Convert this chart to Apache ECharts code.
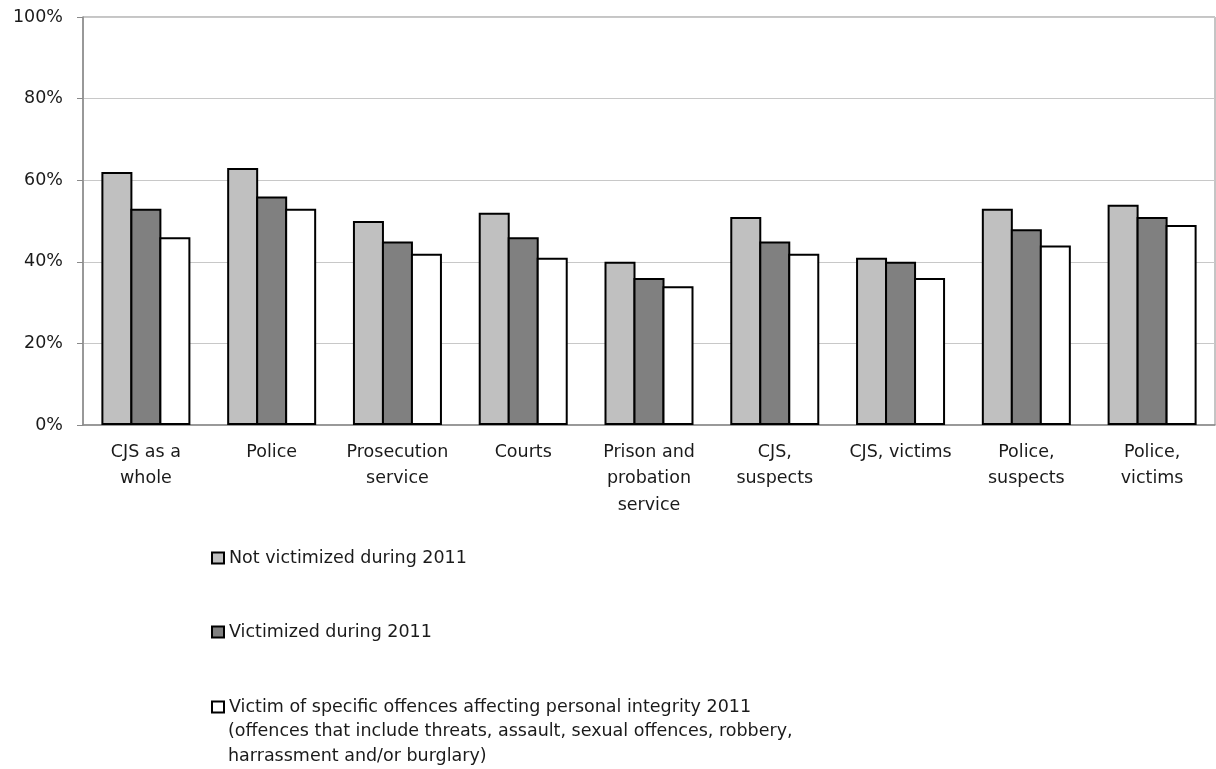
<!DOCTYPE html>
<html>
<head>
<meta charset="utf-8">
<script src="https://cdn.jsdelivr.net/npm/echarts@6/dist/echarts.min.js"></script>
<style>html,body{margin:0;padding:0;background:#fff}#c{width:1216px;height:769px}</style>
</head>
<body>
<div id="c"></div>
<script>
const categories = ['CJS as a\nwhole', 'Police', 'Prosecution\nservice', 'Courts', 'Prison and\nprobation\nservice', 'CJS,\nsuspects', 'CJS, victims', 'Police,\nsuspects', 'Police,\nvictims'];
const notVictimized = [62, 63, 50, 52, 40, 51, 41, 53, 54];
const victimized = [53, 56, 45, 46, 36, 45, 40, 48, 51];
const victimSpecific = [46, 53, 42, 41, 34, 42, 36, 44, 49];
const seriesNames = ['Not victimized during 2011', 'Victimized during 2011', 'Victim of specific offences affecting personal integrity 2011\n(offences that include threats, assault, sexual offences, robbery,\nharrassment and/or burglary)'];
const yTicks = [0, 20, 40, 60, 80, 100];

const font = 'DejaVu Sans';
const txt = '#1a1a1a';
const colors = ['#c0c0c0', '#808080', '#ffffff'];
const values = [notVictimized, victimized, victimSpecific];
const fs = 17.5, lh = 24.5;

const chart = echarts.init(document.getElementById('c'));
const legendCenters = [558, 632, 707];
chart.setOption({
  animation: false,
  backgroundColor: '#fff',
  grid: { left: 83, right: 1, top: 17, bottom: 344, show: true, borderColor: '#8a8a8a', borderWidth: 1 },
  xAxis: {
    type: 'category', data: categories,
    axisLine: { lineStyle: { color: '#8a8a8a', width: 1.5 } },
    axisTick: { show: false },
    axisLabel: { color: txt, fontFamily: font, fontSize: fs, lineHeight: 26.5, margin: 14, interval: 0 }
  },
  yAxis: {
    type: 'value', min: yTicks[0], max: yTicks[yTicks.length - 1], interval: 20,
    axisLine: { show: true, lineStyle: { color: '#8a8a8a', width: 1.5 } },
    axisTick: { show: true, length: 6, lineStyle: { color: '#8a8a8a' } },
    axisLabel: { color: txt, fontFamily: font, fontSize: fs, margin: 20, formatter: '{value}%' },
    splitLine: { lineStyle: { color: '#c8c8c8', width: 1 } }
  },
  legend: seriesNames.map((n, i) => ({
    data: [n],
    formatter: name => name.split('\n')[0],
    left: 211, top: legendCenters[i] - lh / 2, padding: 0, orient: 'vertical',
    itemWidth: 12, itemHeight: 11, icon: 'rect', selectedMode: false,
    textStyle: { color: txt, fontFamily: font, fontSize: fs, lineHeight: lh }
  })),
  graphic: [{
    type: 'text', left: 228, top: legendCenters[2] + lh / 2,
    style: { text: seriesNames[2].split('\n').slice(1).join('\n'), fill: txt, font: fs + 'px "' + font + '"', lineHeight: lh }
  }],
  series: seriesNames.map((n, i) => ({
    name: n, type: 'bar', data: values[i], barWidth: 31, barGap: '-6.45%',
    itemStyle: { color: colors[i], borderColor: '#000', borderWidth: 2 }
  }))
});
</script>
</body>
</html>
